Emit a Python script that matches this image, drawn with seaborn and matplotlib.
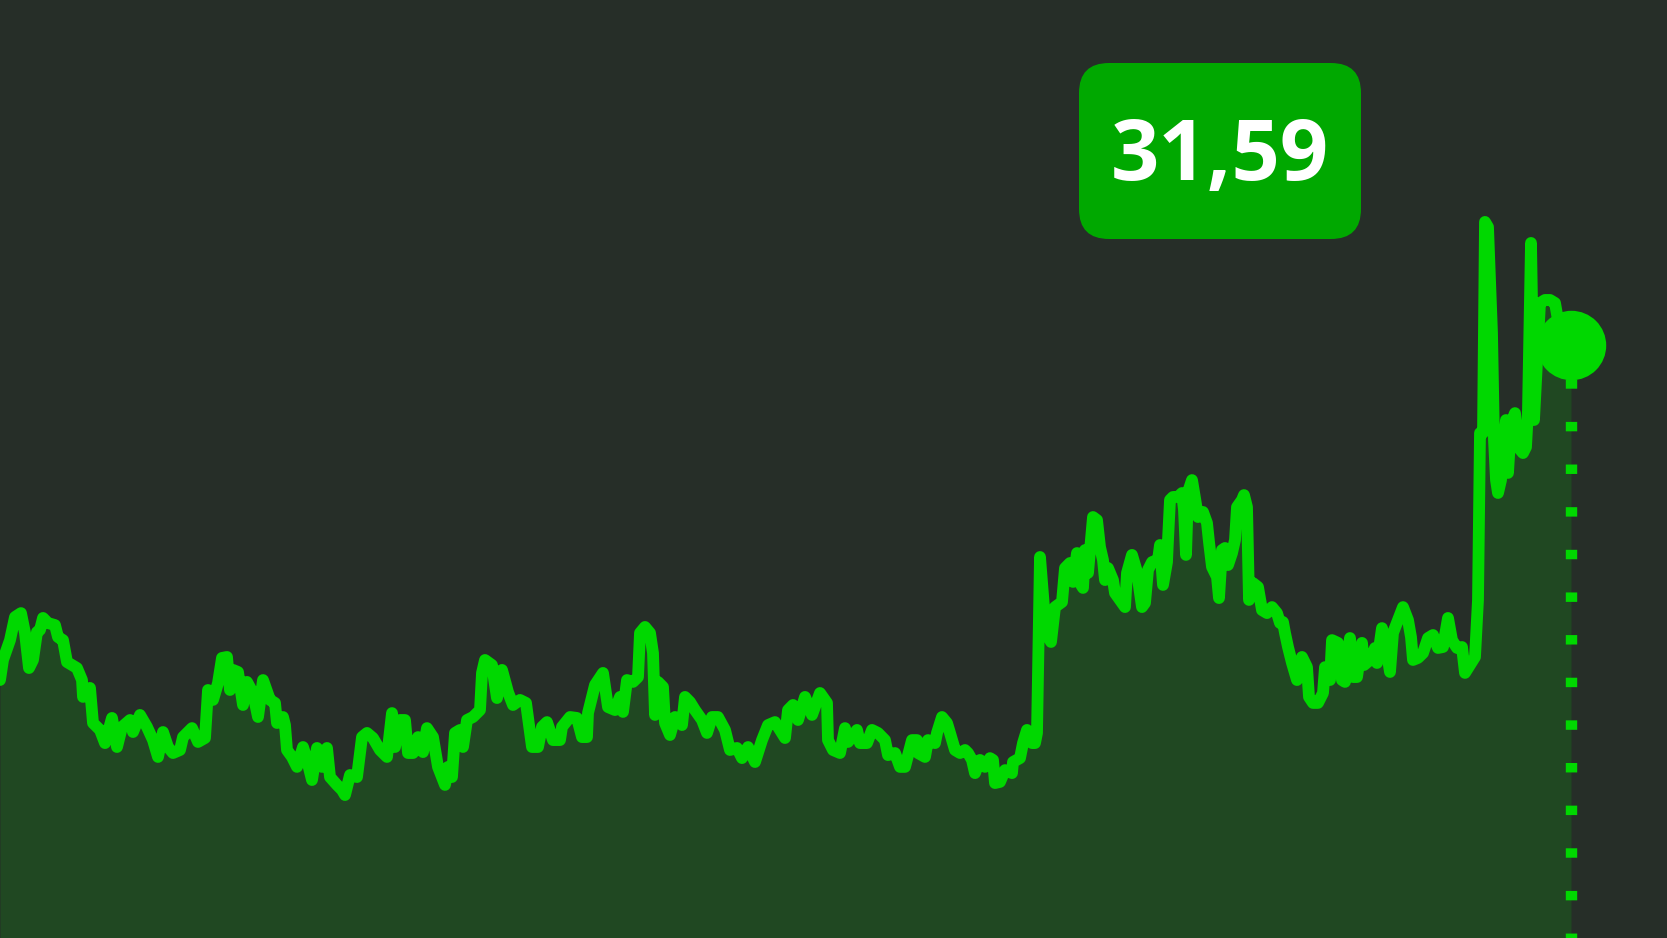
import pandas as pd
import matplotlib
matplotlib.use("Agg")
import matplotlib.pyplot as plt
import seaborn as sns
from matplotlib.patches import FancyBboxPatch

# price series (trading day index, closing price)
day = [
    0, 3, 10, 15, 21, 25, 29, 33, 37, 40,
    43, 48, 55, 58, 63, 67, 77, 82, 83, 90,
    93, 100, 105, 112, 117, 122, 130, 133, 140, 147,
    153, 158, 163, 168, 173, 180, 183, 192, 198, 205,
    208, 213, 218, 222, 227, 230, 233, 238, 243, 247,
    253, 258, 263, 270, 275, 277, 283, 285, 287, 292,
    297, 303, 307, 312, 317, 322, 327, 330, 337, 342,
    345, 350, 357, 362, 367, 373, 380, 387, 392, 395,
    400, 405, 408, 413, 418, 423, 427, 433, 438, 445,
    448, 452, 455, 460, 463, 467, 473, 480, 482, 485,
    492, 497, 502, 508, 513, 520, 526, 532, 538, 542,
    547, 553, 560, 562, 570, 577, 582, 587, 588, 595,
    603, 608, 615, 620, 623, 627, 633, 638, 640, 645,
    650, 653, 655, 658, 663, 665, 670, 675, 682, 685,
    690, 695, 702, 707, 712, 718, 725, 730, 737, 742,
    748, 755, 762, 768, 775, 780, 785, 788, 793, 798,
    805, 812, 820, 827, 828, 833, 840, 845, 848, 857,
    860, 867, 872, 878, 885, 888, 895, 900, 905, 912,
    917, 918, 925, 928, 935, 937, 942, 947, 950, 955,
    960, 965, 968, 972, 975, 980, 985, 990, 993, 995,
    1000, 1005, 1012, 1013, 1020, 1023, 1027, 1032, 1035, 1037,
    1040, 1046, 1051, 1055, 1062, 1065, 1070, 1073, 1077, 1080,
    1083, 1085, 1088, 1093, 1097, 1100, 1103, 1105, 1108, 1113,
    1115, 1122, 1125, 1127, 1132, 1137, 1142, 1145, 1148, 1152,
    1158, 1160, 1163, 1167, 1168, 1170, 1173, 1178, 1182, 1184,
    1186, 1188, 1192, 1195, 1198, 1203, 1207, 1209, 1212, 1217,
    1219, 1222, 1225, 1228, 1232, 1235, 1237, 1242, 1244, 1247,
    1249, 1253, 1258, 1262, 1267, 1272, 1277, 1280, 1283, 1285,
    1288, 1292, 1297, 1302, 1307, 1309, 1313, 1318, 1323, 1325,
    1330, 1332, 1338, 1342, 1345, 1350, 1353, 1357, 1362, 1364,
    1370, 1375, 1377, 1382, 1385, 1390, 1393, 1398, 1403, 1408,
    1411, 1413, 1418, 1423, 1428, 1433, 1438, 1443, 1448, 1452,
    1457, 1462, 1465, 1470, 1475, 1478, 1480, 1483, 1485, 1488,
    1492, 1494, 1496, 1498, 1501, 1503, 1506, 1508, 1511, 1515,
    1518, 1523, 1526, 1528, 1531, 1534, 1540, 1545, 1550, 1555,
    1558, 1571,
]
price = [
    13.75, 14.82, 15.88, 17.11, 17.32, 16.26, 14.39, 14.82, 16.31, 16.42,
    17.06, 16.79, 16.68, 16.04, 15.88, 14.71, 14.39, 13.75, 12.85, 13.33,
    11.46, 11.09, 10.39, 11.73, 10.18, 11.25, 11.62, 10.98, 11.89, 11.25,
    10.55, 9.65, 10.98, 10.18, 9.86, 10.02, 10.71, 11.19, 10.45, 10.66,
    13.22, 12.69, 13.59, 14.93, 14.98, 13.22, 14.29, 14.18, 12.42, 13.65,
    13.06, 11.78, 13.75, 12.69, 12.53, 11.46, 11.78, 11.35, 10.02, 9.65,
    9.12, 10.18, 9.49, 8.42, 10.13, 9.12, 10.13, 8.58, 8.16, 7.89,
    7.62, 8.69, 8.58, 10.71, 10.93, 10.66, 10.02, 9.65, 11.99, 10.18,
    11.62, 11.62, 9.86, 9.86, 10.71, 9.91, 11.19, 10.71, 9.12, 8.16,
    9.12, 8.58, 10.93, 11.09, 10.18, 11.62, 11.78, 12.15, 14.13, 14.82,
    14.55, 12.79, 14.29, 13.11, 12.42, 12.69, 12.53, 10.18, 10.18, 11.25,
    11.51, 10.55, 10.55, 11.25, 11.78, 11.73, 10.71, 10.71, 11.99, 13.49,
    14.13, 12.31, 12.15, 12.85, 12.05, 13.75, 13.65, 13.91, 16.26, 16.58,
    16.26, 15.19, 11.89, 13.65, 13.38, 11.46, 10.82, 11.78, 11.35, 12.85,
    12.58, 12.15, 11.62, 10.93, 11.78, 11.78, 11.09, 10.02, 10.13, 9.59,
    10.18, 9.38, 10.55, 11.35, 11.51, 11.09, 10.66, 12.15, 12.42, 11.62,
    12.85, 11.89, 13.06, 12.53, 10.55, 10.02, 9.86, 11.19, 10.45, 11.09,
    10.39, 10.39, 11.09, 10.93, 10.55, 9.75, 9.86, 9.12, 9.12, 10.55,
    10.55, 9.86, 9.65, 10.55, 10.39, 10.93, 11.78, 11.46, 10.93, 10.02,
    9.86, 10.02, 9.86, 9.49, 8.79, 9.49, 9.12, 9.59, 9.49, 8.26,
    8.32, 8.95, 8.79, 9.38, 9.59, 10.39, 11.09, 10.39, 10.39, 10.93,
    20.31, 16.26, 15.78, 17.64, 17.91, 19.72, 19.99, 18.98, 20.52, 18.92,
    18.66, 20.68, 19.46, 22.44, 22.28, 20.84, 20.15, 19.08, 19.72, 19.08,
    18.39, 17.86, 17.64, 19.46, 20.42, 19.51, 17.64, 17.86, 19.62, 20.04,
    20.15, 20.95, 18.82, 20.04, 21.22, 23.35, 23.51, 23.51, 23.72, 22.81,
    20.42, 23.77, 24.41, 23.45, 22.44, 22.71, 22.12, 21.11, 19.78, 19.24,
    18.12, 20.68, 20.79, 19.88, 20.52, 21.22, 22.97, 23.35, 23.61, 22.97,
    18.02, 18.92, 18.71, 17.48, 17.32, 17.64, 17.32, 16.79, 16.84, 16.26,
    15.51, 14.66, 13.75, 14.98, 14.44, 12.85, 12.53, 12.53, 13.06, 14.44,
    13.75, 15.88, 15.73, 13.75, 13.65, 15.99, 13.91, 13.91, 15.73, 14.55,
    14.82, 15.46, 14.66, 16.52, 15.88, 14.18, 16.26, 16.95, 17.64, 16.95,
    16.04, 14.82, 14.93, 15.19, 15.99, 16.15, 15.46, 15.51, 17.06, 15.88,
    15.46, 15.51, 14.13, 14.55, 14.98, 18.02, 26.92, 26.92, 38.17, 37.90,
    32.25, 26.55, 24.41, 23.72, 24.41, 26.01, 27.61, 24.79, 27.45, 27.98,
    26.17, 25.85, 26.17, 28.14, 37.05, 27.61, 33.85, 34.01, 34.01, 33.85,
    32.94, 31.59,
]
last_label = "31,59"

BG = "#262e28"
FILL = "#204822"
LINE = "#00d800"
BOX = "#00a800"

sns.set_theme(style="dark")
plt.rcParams["lines.scale_dashes"] = False

df = pd.DataFrame({"day": day, "price": price})

fig = plt.figure(figsize=(16.67, 9.38), dpi=100, facecolor=BG)
ax = fig.add_axes([0, 0, 1, 1])
ax.set_facecolor(BG)

# area under the curve
ax.fill_between(df["day"], df["price"], 0, color=FILL, lw=0, zorder=1)

# main price line
sns.lineplot(data=df, x="day", y="price", ax=ax, color=LINE, linewidth=8.5,
             sort=False, estimator=None, zorder=3,
             solid_joinstyle="round", solid_capstyle="round")
ax.lines[0].set_linewidth(8.5)

# dotted drop line from the last point, then the marker on top
x_last, y_last = day[-1], price[-1]
ax.plot([x_last, x_last], [y_last, 0], color=LINE, lw=8.2,
        linestyle=(6.4, (6.8, 23.9)), dash_capstyle="butt", zorder=2)
ax.plot([x_last], [y_last], "o", ms=50, color=LINE, mew=0, zorder=4)

ax.set_xlim(0, 1667)
ax.set_ylim(0, 50)
ax.set_axis_off()

# label box with the last value
box = FancyBboxPatch((10.79, 6.99), 2.82, 1.76,
                     boxstyle="round,pad=0,rounding_size=0.30",
                     transform=fig.dpi_scale_trans, fc=BOX, ec="none")
fig.patches.append(box)
fig.text(12.20 / 16.67, 7.58 / 9.38, last_label, ha="center", va="baseline",
         color="white", fontsize=61, fontweight="bold",
         family=["Open Sans", "DejaVu Sans"])

fig.savefig("out.png", dpi=100, facecolor=BG)
